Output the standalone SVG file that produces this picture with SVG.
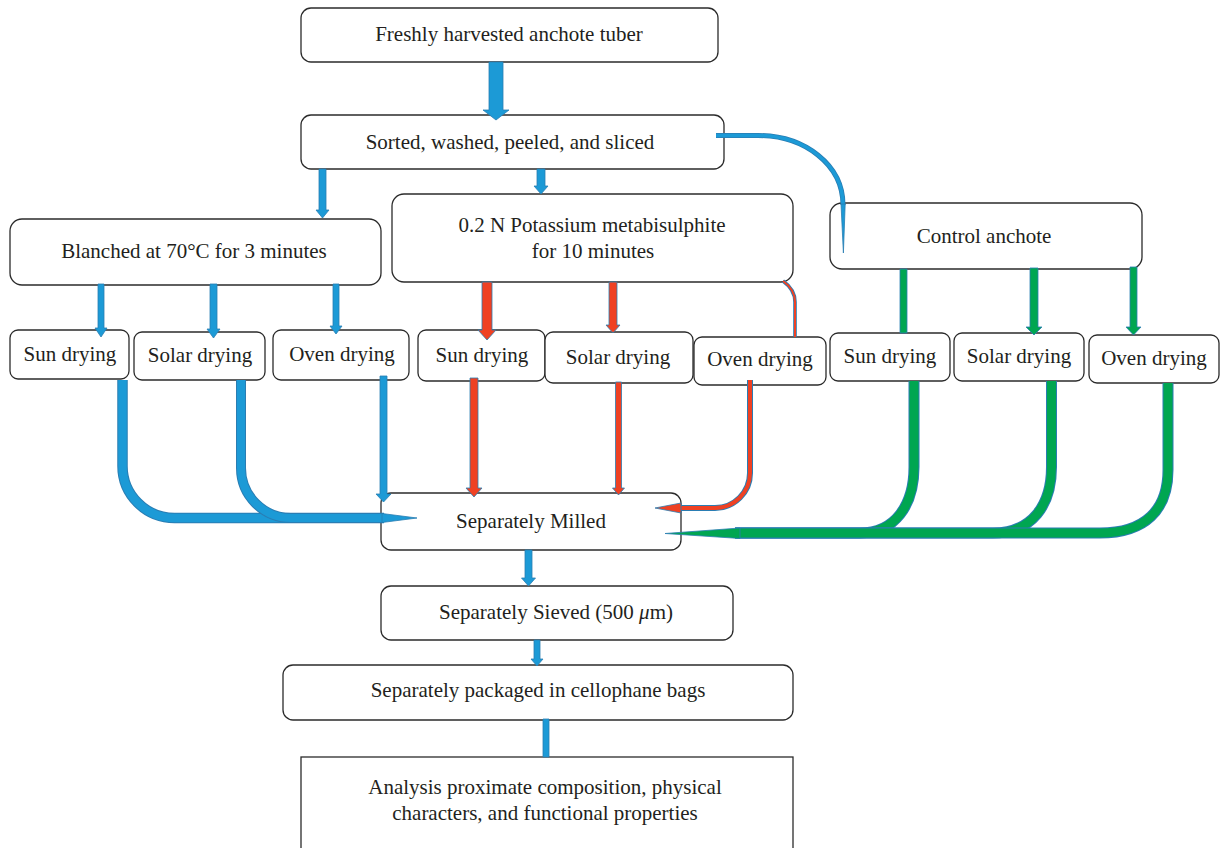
<svg xmlns="http://www.w3.org/2000/svg" width="1222" height="848" viewBox="0 0 1222 848">
<style>
.box{fill:#fff;stroke:#2b2b2b;stroke-width:1.3}
.t{font-family:"Liberation Serif","Times New Roman",serif;font-size:21px;fill:#231f20;text-anchor:middle}
.b{fill:#1c9ad6;stroke:#2a7db3;stroke-width:0.8}
.r{fill:#ef4123;stroke:#2a7db3;stroke-width:0.8}
.g{fill:#00a651;stroke:#2a7db3;stroke-width:0.8}
.bo{fill:none;stroke:#2a7db3}
.bi{fill:none;stroke:#1c9ad6}
.ri{fill:none;stroke:#ef4123}
.gi{fill:none;stroke:#00a651}
</style>
<rect width="1222" height="848" fill="#fff"/>

<g id="n_fresh"><rect class="box" x="301" y="8" width="417" height="54" rx="10"/><text class="t" x="509" y="41">Freshly harvested anchote tuber</text></g>
<g id="n_sorted"><rect class="box" x="301" y="115" width="423" height="54" rx="10"/><text class="t" x="510" y="149">Sorted, washed, peeled, and sliced</text></g>
<g id="n_blanched"><rect class="box" x="10" y="219" width="371" height="66" rx="12"/><text class="t" x="194" y="258">Blanched at 70°C for 3 minutes</text></g>
<g id="n_kms"><rect class="box" x="392" y="194" width="401" height="88" rx="12"/><text class="t" x="592" y="232">0.2 N Potassium metabisulphite</text><text class="t" x="593" y="258">for 10 minutes</text></g>
<g id="n_control"><rect class="box" x="830" y="203" width="312" height="66" rx="12"/><text class="t" x="984" y="243">Control anchote</text></g>

<g id="n_sun1"><rect class="box" x="10" y="330" width="119" height="49" rx="8"/><text class="t" x="70" y="361">Sun drying</text></g>
<g id="n_solar1"><rect class="box" x="134" y="332" width="131" height="48" rx="8"/><text class="t" x="200" y="362">Solar drying</text></g>
<g id="n_oven1"><rect class="box" x="273" y="330" width="136" height="50" rx="8"/><text class="t" x="342" y="361">Oven drying</text></g>
<g id="n_sun2"><rect class="box" x="418" y="330" width="127" height="51" rx="8"/><text class="t" x="482" y="362">Sun drying</text></g>
<g id="n_solar2"><rect class="box" x="545" y="332" width="148" height="51" rx="8"/><text class="t" x="618" y="364">Solar drying</text></g>
<g id="n_oven2"><rect class="box" x="694" y="337" width="132" height="48" rx="8"/><text class="t" x="760" y="366">Oven drying</text></g>
<g id="n_sun3"><rect class="box" x="830" y="333" width="120" height="48" rx="8"/><text class="t" x="890" y="363">Sun drying</text></g>
<g id="n_solar3"><rect class="box" x="954" y="333" width="130" height="48" rx="8"/><text class="t" x="1019" y="363">Solar drying</text></g>
<g id="n_oven3"><rect class="box" x="1089" y="335" width="130" height="48" rx="8"/><text class="t" x="1154" y="365">Oven drying</text></g>

<g id="n_milled"><rect class="box" x="381" y="493" width="300" height="57" rx="10"/><text class="t" x="531" y="528">Separately Milled</text></g>
<g id="n_sieved"><rect class="box" x="381" y="586" width="352" height="54" rx="10"/><text class="t" x="556" y="619">Separately Sieved (500 <tspan font-style="italic">μ</tspan>m)</text></g>
<g id="n_packaged"><rect class="box" x="283" y="665" width="510" height="55" rx="10"/><text class="t" x="538" y="697">Separately packaged in cellophane bags</text></g>
<g id="n_analysis"><rect class="box" x="301" y="757" width="492" height="100"/><text class="t" x="545" y="794">Analysis proximate composition, physical</text><text class="t" x="545" y="820">characters, and functional properties</text></g>

<g id="connectors">
  <!-- Fresh -> Sorted -->
  <path class="b" d="M489,62 H503 V110 H509 L496,120 L483,110 H489 Z"/>
  <!-- Sorted -> Blanched -->
  <path class="b" d="M319,169 H326 V210 H329 L322.5,218 L316,210 H319 Z"/>
  <!-- Sorted -> Potassium -->
  <path class="b" d="M537,169 H545 V186 H548 L541,194 L534,186 H537 Z"/>
  <!-- Sorted -> Control -->
  <path class="bo" stroke-width="5" d="M716,135.5 H758 C805,135.5 843,165 843,205"/>
  <path class="bi" stroke-width="3.5" d="M716,135.5 H758 C805,135.5 843,165 843,205"/>
  <path class="b" d="M841,204 L845.2,204 L843.4,253 Z"/>

  <!-- Blanched -> drying -->
  <path class="b" d="M98,284 H104 V328 H107 L101,337 L95,328 H98 Z"/>
  <path class="b" d="M210,284 H217 V329 H220 L213.5,338 L207,329 H210 Z"/>
  <path class="b" d="M333,284 H339 V326 H342 L336,334 L330,326 H333 Z"/>

  <!-- Potassium -> drying -->
  <path class="r" d="M482,282 H492 V330 H496 L487,340 L478,330 H482 Z"/>
  <path class="r" d="M609,282 H617 V325 H620 L613,333 L606,325 H609 Z"/>
  <path class="bo" stroke-width="3.6" d="M783,281 C790,286 795,292 795,302 V337"/>
  <path class="ri" stroke-width="2" d="M783,281 C790,286 795,292 795,302 V337"/>

  <!-- Control -> drying -->
  <path class="g" d="M900,269 H907 V333 H900 Z"/>
  <path class="g" d="M1030,268 H1038 V327 H1042 L1034,335 L1026,327 H1030 Z"/>
  <path class="g" d="M1130,267 H1137 V327 H1141 L1133.5,335 L1126,327 H1130 Z"/>

  <!-- Blanched drying -> Milled -->
  <path class="bo" stroke-width="10.5" d="M122.5,380 V466 A52,52 0 0 0 174.5,518 H384"/>
  <path class="bi" stroke-width="8.5" d="M122.5,380 V466 A52,52 0 0 0 174.5,518 H384"/>
  <path class="bo" stroke-width="10" d="M241,380 V468 A50,50 0 0 0 291,518 H384"/>
  <path class="bi" stroke-width="8" d="M241,380 V468 A50,50 0 0 0 291,518 H384"/>
  <path class="b" d="M382,513.5 L417,518 L382,522.5 Z"/>
  <path class="b" d="M380,376 H387 V494 H391 L383.5,502 L376,494 H380 Z"/>

  <!-- Potassium drying -> Milled -->
  <path class="r" d="M470,378 H478 V488 H482 L474,497 L466,488 H470 Z"/>
  <path class="r" d="M615.5,382 H621.5 V488 H624.5 L618.5,495 L612.5,488 H615.5 Z"/>
  <path class="bo" stroke-width="6" d="M750,380 V473 A35,35 0 0 1 715,508 H678"/>
  <path class="ri" stroke-width="4" d="M750,380 V473 A35,35 0 0 1 715,508 H678"/>
  <path class="r" d="M681,503 L655,508 L681,513 Z"/>

  <!-- Control drying -> Milled -->
  <path class="bo" stroke-width="11" d="M914,381 V467 C914,505 895,533 860,533 H735"/>
  <path class="gi" stroke-width="9" d="M914,381 V467 C914,505 895,533 860,533 H735"/>
  <path class="bo" stroke-width="11" d="M1051.5,381 V467 C1051.5,505 1032,533 993,533 H735"/>
  <path class="gi" stroke-width="9" d="M1051.5,381 V467 C1051.5,505 1032,533 993,533 H735"/>
  <path class="bo" stroke-width="11" d="M1168,383 V470 C1168,510 1145,533 1100,533 H735"/>
  <path class="gi" stroke-width="9" d="M1168,383 V470 C1168,510 1145,533 1100,533 H735"/>
  <path class="g" d="M740,528 L665,533.5 L740,538.5 Z"/>

  <!-- Milled -> Sieved -> Packaged -> Analysis -->
  <path class="b" d="M525,550 H532 V578 H535.5 L528.5,586 L521.5,578 H525 Z"/>
  <path class="b" d="M534,640 H540 V659 H543 L537,666 L531,659 H534 Z"/>
  <path class="b" d="M543,719 H549 V757 H543 Z"/>
</g>
</svg>
